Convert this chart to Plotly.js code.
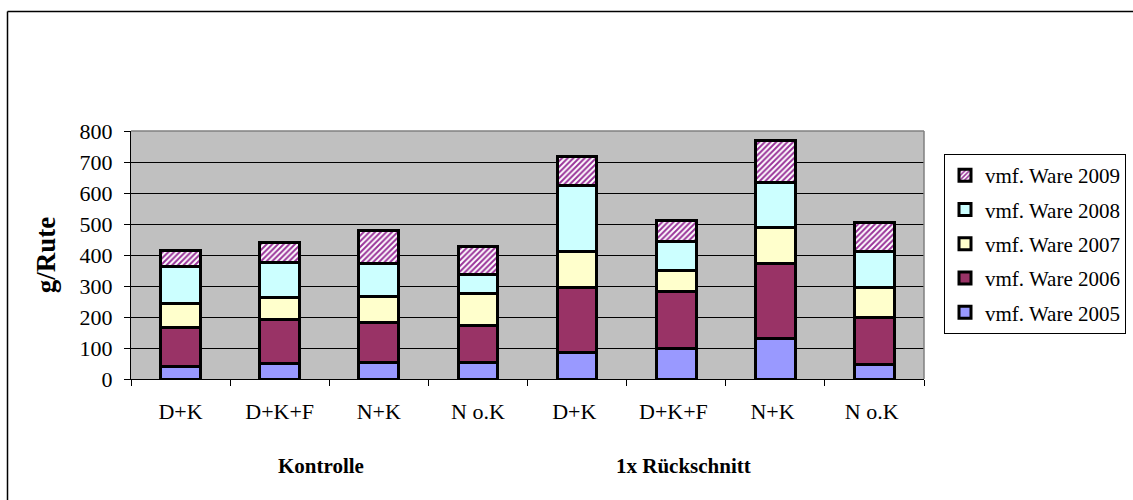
<!DOCTYPE html>
<html>
<head>
<meta charset="utf-8">
<script src="https://cdn.plot.ly/plotly-3.0.1.min.js"></script>
<style>
  html, body { margin: 0; padding: 0; background: #ffffff; }
  #chart { width: 1133px; height: 500px; }
</style>
</head>
<body>
<div id="chart"></div>
<script>
// Category labels (two groups of four treatments)
const categories = ["D+K", "D+K+F", "N+K", "N o.K", "D+K ", "D+K+F ", "N+K ", "N o.K "];
const groupLabels = ["Kontrolle", "1x Rückschnitt"];

// Series values (g/Rute)
const ware2005 = [41, 50, 53, 54, 84, 97, 132, 48];
const ware2006 = [126, 141, 130, 118, 210, 186, 240, 152];
const ware2007 = [77, 73, 83, 103, 117, 66, 118, 94];
const ware2008 = [118, 113, 107, 63, 214, 95, 143, 118];
const ware2009 = [52, 64, 105, 89, 93, 67, 137, 94];

const seriesNames = ["vmf. Ware 2005", "vmf. Ware 2006", "vmf. Ware 2007", "vmf. Ware 2008", "vmf. Ware 2009"];
const seriesValues = [ware2005, ware2006, ware2007, ware2008, ware2009];
const seriesColors = ["#9999FF", "#993366", "#FFFFCC", "#CCFFFF", "#FFFFFF"];

const FONT = "Liberation Serif, Times New Roman, serif";

const traces = seriesNames.map((name, i) => {
  const marker = { color: seriesColors[i], line: { color: "#000000", width: 3 } };
  if (i === 4) {
    marker.pattern = { shape: "/", fgcolor: "#993399", bgcolor: "#FFFFFF", size: 4, solidity: 0.5 };
  }
  return {
    type: "bar",
    name: name,
    x: categories,
    y: seriesValues[i],
    marker: marker,
    legendgroup: "g" + i,
    legendrank: 10 - i,
    hoverinfo: "skip"
  };
});

// plot area in pixels: x 131..924, y 131..379
const L = 131, R = 924, T = 131, B = 379;
const pw = R - L, ph = B - T;
const px = v => (v - L) / pw;
const py = v => (B - v) / ph;

const layout = {
  width: 1133,
  height: 500,
  margin: { l: L, r: 1133 - R, t: T, b: 500 - B, pad: 0, autoexpand: false },
  paper_bgcolor: "#FFFFFF",
  plot_bgcolor: "#C0C0C0",
  barmode: "stack",
  bargap: 0.6,
  font: { family: FONT, size: 21, color: "#000000" },
  showlegend: true,
  legend: {
    x: px(944), y: py(154), xanchor: "left", yanchor: "top",
    bgcolor: "#FFFFFF", bordercolor: "#000000", borderwidth: 1,
    font: { family: FONT, size: 21, color: "#000000" },
    traceorder: "grouped",
    tracegroupgap: 4,
    itemwidth: 30
  },
  xaxis: {
    type: "category",
    automargin: false,
    tickson: "boundaries",
    ticks: "outside", ticklen: 6, tickcolor: "#000000", tickwidth: 1,
    showline: true, linecolor: "#000000", linewidth: 1,
    showgrid: false, zeroline: false,
    tickfont: { family: FONT, size: 22, color: "#000000" },
    ticklabelstandoff: 13,
    fixedrange: true
  },
  yaxis: {
    range: [0, 800], dtick: 100, tick0: 0,
    automargin: false,
    ticks: "outside", ticklen: 6, tickcolor: "#000000", tickwidth: 1,
    showline: true, linecolor: "#000000", linewidth: 1,
    showgrid: true, gridcolor: "#000000", gridwidth: 1,
    zeroline: false,
    tickfont: { family: FONT, size: 22, color: "#000000" },
    ticklabelstandoff: 7,
    title: { text: "<b>g/Rute</b>", font: { family: FONT, size: 27, color: "#000000" }, standoff: 16 },
    fixedrange: true
  },
  annotations: [
    { text: "<b>" + groupLabels[0] + "</b>", xref: "paper", yref: "paper", x: px(321), y: py(466),
      xanchor: "center", yanchor: "middle", showarrow: false, font: { family: FONT, size: 21, color: "#000000" } },
    { text: "<b>" + groupLabels[1] + "</b>", xref: "paper", yref: "paper", x: px(683), y: py(466),
      xanchor: "center", yanchor: "middle", showarrow: false, font: { family: FONT, size: 21, color: "#000000" } }
  ],
  shapes: [
    { type: "line", xref: "paper", yref: "paper", x0: 0, x1: 1, y0: 1, y1: 1, line: { color: "#808080", width: 1.5 } },
    { type: "line", xref: "paper", yref: "paper", x0: 1, x1: 1, y0: 0, y1: 1, line: { color: "#808080", width: 1.5 } },
    { type: "line", xref: "paper", yref: "paper", x0: px(7.5), x1: px(7.5), y0: py(11.5), y1: py(520), line: { color: "#000000", width: 1.5 } },
    { type: "line", xref: "paper", yref: "paper", x0: px(7.5), x1: px(1140), y0: py(11.5), y1: py(11.5), line: { color: "#000000", width: 1.5 } }
  ]
};

Plotly.newPlot("chart", traces, layout, { staticPlot: true, displayModeBar: false });
</script>
</body>
</html>
